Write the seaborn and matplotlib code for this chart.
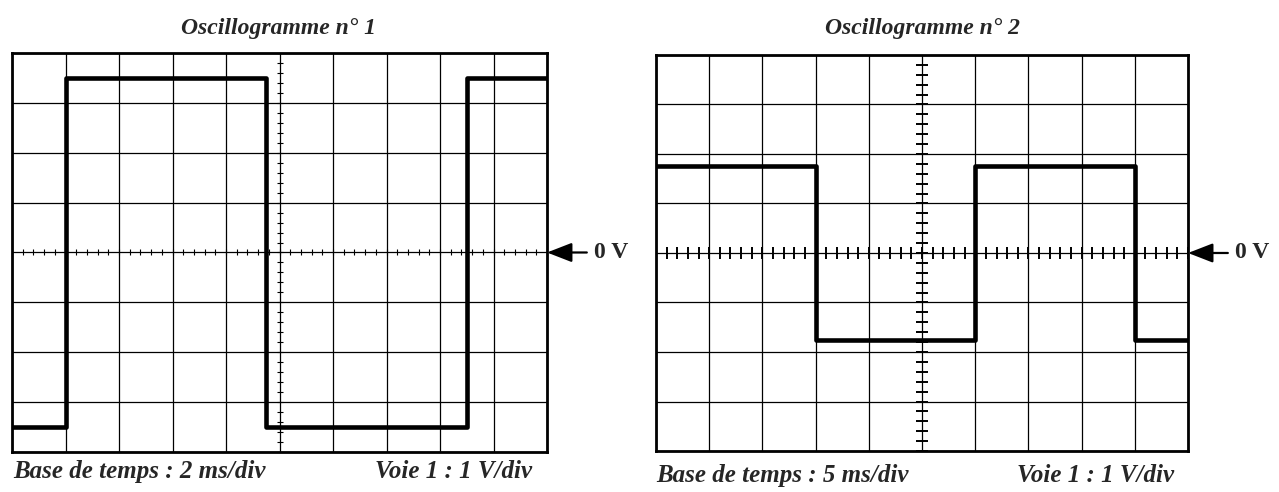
import seaborn as sns
import matplotlib.pyplot as plt
import pandas as pd
import numpy as np

# Oscillogramme n° 1 : 2 ms/div, 1 V/div
t1_ms = [0, 2, 9.5, 17, 20]
u1_V = [-3.5, 3.5, -3.5, 3.5, 3.5]

# Oscillogramme n° 2 : 5 ms/div, 1 V/div
t2_ms = [0, 15, 30, 45, 50]
u2_V = [1.75, -1.75, 1.75, -1.75, -1.75]

titles = ['Oscillogramme n° 1', 'Oscillogramme n° 2']
time_bases = ['Base de temps : 2 ms/div', 'Base de temps : 5 ms/div']
channel = 'Voie 1 : 1 V/div'
ms_per_div = [2, 5]

SERIF = ['Liberation Serif', 'DejaVu Serif']


def draw_screen(ax, t, u, msdiv, tick_len, tick_lw):
    xmax = 10 * msdiv
    ax.set_xlim(0, xmax)
    ax.set_ylim(-4, 4)
    ax.set_xticks(np.arange(0, xmax + 0.001, msdiv))
    ax.set_yticks(np.arange(-4, 4.001, 1))
    ax.tick_params(length=0, labelbottom=False, labelleft=False)
    ax.grid(True, color='black', lw=0.9)
    ax.set_axisbelow(True)
    for sp in ax.spines.values():
        sp.set_color('black')
        sp.set_linewidth(2.0)

    # graduated central axes
    xs = np.arange(0, xmax + 0.001, msdiv / 5)
    ys = np.arange(-4, 4.001, 0.2)
    ax.plot(xs, np.zeros_like(xs), ls='none', marker='|', ms=tick_len,
            mew=tick_lw, color='black', zorder=2)
    ax.plot(np.full_like(ys, xmax / 2), ys, ls='none', marker='_', ms=tick_len,
            mew=tick_lw, color='black', zorder=2)

    df = pd.DataFrame({'t': t, 'u': u})
    sns.lineplot(data=df, x='t', y='u', ax=ax, estimator=None, sort=False,
                 drawstyle='steps-post', color='black', lw=3.3, zorder=3)
    ax.set_xlabel('')
    ax.set_ylabel('')

    ax.annotate('0 V', xy=(xmax, 0), xycoords='data',
                xytext=(34, 0), textcoords='offset points',
                ha='left', va='center', fontsize=17, fontweight='bold',
                family=SERIF,
                arrowprops=dict(arrowstyle='-|>,head_length=0.9,head_width=0.35',
                                color='black', lw=1.6, shrinkA=3, shrinkB=0))


sns.set_style('white')
plt.rcParams['font.family'] = SERIF

fig = plt.figure(figsize=(12.79, 4.92), dpi=100)
ax1 = fig.add_axes([0.0094, 0.0813, 0.4183, 0.811])
ax2 = fig.add_axes([0.5129, 0.0833, 0.4160, 0.805])

draw_screen(ax1, t1_ms, u1_V, ms_per_div[0], tick_len=5, tick_lw=0.8)
draw_screen(ax2, t2_ms, u2_V, ms_per_div[1], tick_len=8, tick_lw=1.4)

head = dict(fontsize=17, fontweight='bold', style='italic', family=SERIF)
foot = dict(fontsize=18, fontweight='bold', style='italic', family=SERIF)
fig.text(0.2174, 0.943, titles[0], ha='center', va='center', **head)
fig.text(0.7209, 0.943, titles[1], ha='center', va='center', **head)
fig.text(0.010, 0.042, time_bases[0], ha='left', va='center', **foot)
fig.text(0.416, 0.042, channel, ha='right', va='center', **foot)
fig.text(0.513, 0.034, time_bases[1], ha='left', va='center', **foot)
fig.text(0.918, 0.034, channel, ha='right', va='center', **foot)

fig.savefig('out.png', dpi=100)
